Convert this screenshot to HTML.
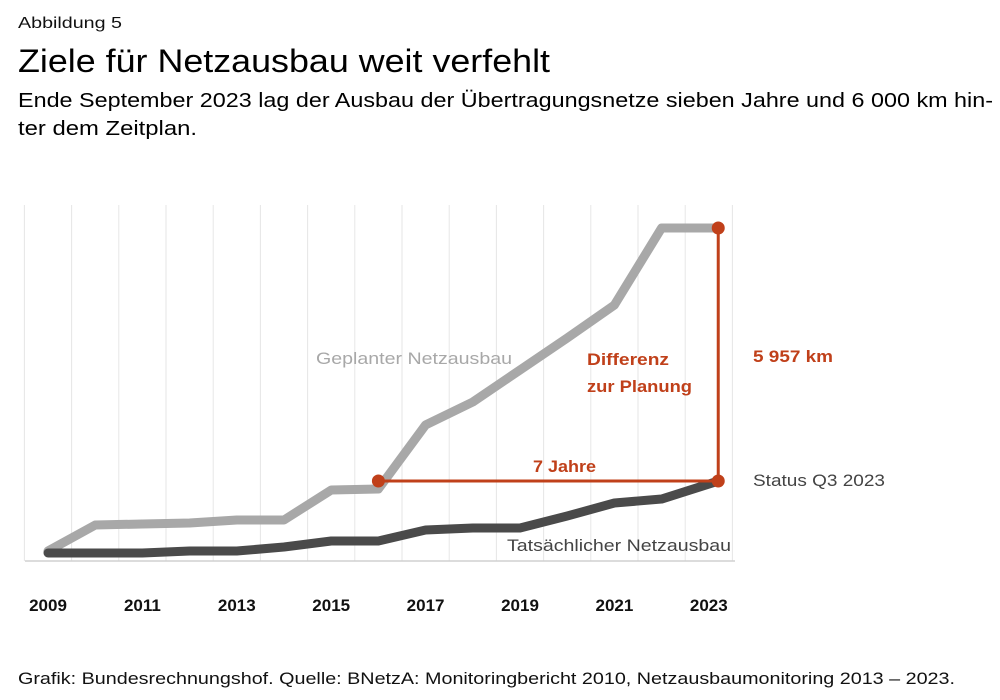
<!DOCTYPE html>
<html><head><meta charset="utf-8"><style>
html,body{margin:0;padding:0;background:#fff;}
svg{display:block;font-family:"Liberation Sans",sans-serif;}
</style></head><body>
<svg id="chart" width="1000" height="700" viewBox="0 0 1000 700">
<text x="18" y="28" font-size="16" fill="#111" textLength="104" lengthAdjust="spacingAndGlyphs">Abbildung 5</text>
<text x="18" y="72" font-size="32" fill="#000" textLength="532" lengthAdjust="spacingAndGlyphs">Ziele für Netzausbau weit verfehlt</text>
<text x="18" y="107" font-size="20" fill="#000" textLength="975" lengthAdjust="spacingAndGlyphs">Ende September 2023 lag der Ausbau der Übertragungsnetze sieben Jahre und 6 000 km hin-</text>
<text x="18" y="135" font-size="20" fill="#000" textLength="179" lengthAdjust="spacingAndGlyphs">ter dem Zeitplan.</text>
<g id="grid"></g>
<line x1="25" y1="561" x2="735" y2="561" stroke="#d0d0d0" stroke-width="1.5"/>
<g id="ticks"></g>
<g id="series"></g>
<text x="316" y="364" font-size="17" fill="#a8a8a8" textLength="196" lengthAdjust="spacingAndGlyphs">Geplanter Netzausbau</text>
<text x="507" y="551" font-size="17" fill="#444" textLength="224" lengthAdjust="spacingAndGlyphs">Tatsächlicher Netzausbau</text>
<text x="587" y="365" font-size="17" font-weight="bold" fill="#c0401a" textLength="82" lengthAdjust="spacingAndGlyphs">Differenz</text>
<text x="587" y="392" font-size="17" font-weight="bold" fill="#c0401a" textLength="105" lengthAdjust="spacingAndGlyphs">zur Planung</text>
<text x="533" y="472" font-size="17" font-weight="bold" fill="#c0401a" textLength="63" lengthAdjust="spacingAndGlyphs">7 Jahre</text>
<text x="753" y="362" font-size="17" font-weight="bold" fill="#c0401a" textLength="80" lengthAdjust="spacingAndGlyphs">5 957 km</text>
<text x="753" y="486" font-size="17" fill="#444" textLength="132" lengthAdjust="spacingAndGlyphs">Status Q3 2023</text>
<text x="18" y="684" font-size="17" fill="#111" textLength="937" lengthAdjust="spacingAndGlyphs">Grafik: Bundesrechnungshof. Quelle: BNetzA: Monitoringbericht 2010, Netzausbaumonitoring 2013 – 2023.</text>
</svg>
<script>
const years = [2009,2010,2011,2012,2013,2014,2015,2016,2017,2018,2019,2020,2021,2022,2023.2];
const planned = [47,659,683,706,777,777,1483,1507,3015,3556,4310,5063,5840,7654,7654];
const actual = [0,0,0,47,47,141,283,283,542,589,589,871,1177,1271,1695];
const tickLabels = ["2009","2011","2013","2015","2017","2019","2021","2023"];
const gapStartYear = 2016;

const NS = "http://www.w3.org/2000/svg";
function xS(y){ return 48 + (y - 2009) * 47.2; }
function yS(v){ return 553 - v / 23.55; }
function mk(tag, attrs, parent){
  const e = document.createElementNS(NS, tag);
  for (const k in attrs) e.setAttribute(k, attrs[k]);
  parent.appendChild(e); return e;
}
const grid = document.getElementById('grid');
for (let i = 0; i <= 15; i++) {
  const gx = xS(2008.5 + i);
  const l = mk('line', {x1:gx, y1:205, x2:gx, y2:561, stroke:'#e6e6e6', 'stroke-width':1}, grid);
  
  
}
const ticks = document.getElementById('ticks');
tickLabels.forEach(t => {
  const tx = mk('text', {x:xS(+t), y:611, 'font-size':17, 'font-weight':'bold', fill:'#111', 'text-anchor':'middle'}, ticks);
  tx.textContent = t;
  
  
});
const ser = document.getElementById('series');
function line(vals, color, name){
  const p = mk('polyline', {points: vals.map((v,i)=>xS(years[i])+','+yS(v)).join(' '), fill:'none', stroke:color, 'stroke-width':9, 'stroke-linejoin':'round', 'stroke-linecap':'round'}, ser);
  
  
}
line(planned, '#a8a8a8', 'planned-line');
line(actual, '#4a4a4a', 'actual-line');
const last = years.length - 1;
const ex = xS(years[last]), eyA = yS(actual[last]), eyP = yS(planned[last]);
const gx = xS(gapStartYear), gy = yS(actual[last]);
const h = mk('line', {x1:gx, y1:gy, x2:ex, y2:gy, stroke:'#c0401a', 'stroke-width':3}, ser);


const v = mk('line', {x1:ex, y1:eyA, x2:ex, y2:eyP, stroke:'#c0401a', 'stroke-width':3}, ser);


[[gx,gy,'gap-start-marker'],[ex,eyA,'status-marker'],[ex,eyP,'planned-end-marker']].forEach(d=>{
  const c = mk('circle', {cx:d[0], cy:d[1], r:6.5, fill:'#c0401a'}, ser);
  
  
});
</script>
</body></html>
